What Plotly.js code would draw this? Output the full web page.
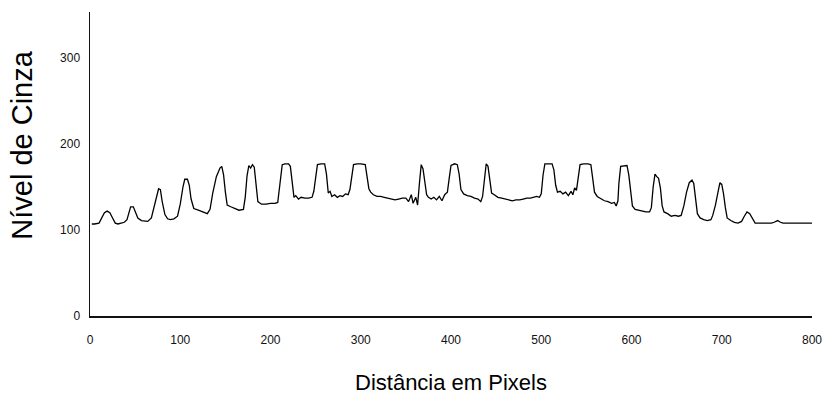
<!DOCTYPE html>
<html>
<head>
<meta charset="utf-8">
<script src="https://cdn.plot.ly/plotly-3.0.1.min.js"></script>
<style>
  html, body { margin: 0; padding: 0; background: #fff; }
  #chart { width: 825px; height: 407px; }
</style>
</head>
<body>
<div id="chart"></div>
<script>
// Grey-level profile sampled along a line of the image (distance in pixels)
const distancia = [
  2, 5, 10, 13, 16, 19, 22, 25, 28, 31, 35, 38, 41, 43, 45, 48, 50, 53, 57, 61,
  64, 68, 71, 74, 76, 78, 80, 83, 86, 89, 93, 97, 100, 103, 105, 108, 110, 112, 115, 120,
  125, 130, 133, 136, 140, 144, 146, 148, 150, 152, 156, 160, 165, 170, 172, 174, 176, 178, 180, 182,
  184, 186, 190, 195, 200, 205, 208, 211, 213, 216, 220, 222, 224, 226, 228, 231, 234, 238, 242, 246,
  248, 250, 252, 256, 260, 262, 264, 266, 268, 271, 274, 277, 280, 283, 286, 288, 290, 292, 296, 300,
  305, 307, 309, 311, 314, 318, 322, 326, 330, 334, 338, 342, 346, 350, 353, 356, 358, 361, 363, 365,
  367, 369, 371, 373, 375, 378, 381, 384, 387, 390, 393, 396, 398, 400, 404, 407, 409, 411, 414, 418,
  422, 426, 430, 433, 435, 437, 439, 441, 443, 445, 448, 452, 456, 460, 464, 468, 472, 476, 480, 484,
  488, 492, 495, 498, 500, 502, 504, 508, 512, 514, 516, 518, 521, 524, 527, 530, 533, 535, 537, 539,
  541, 543, 547, 552, 555, 557, 559, 562, 566, 570, 574, 578, 581, 583, 585, 586, 588, 592, 595, 597,
  599, 601, 604, 608, 612, 616, 620, 622, 624, 626, 628, 630, 632, 634, 636, 640, 644, 648, 652, 655,
  658, 661, 664, 667, 669, 671, 673, 676, 680, 684, 688, 690, 693, 696, 698, 700, 702, 704, 706, 710,
  714, 718, 722, 725, 728, 731, 734, 737, 740, 745, 750, 755, 758, 762, 765, 768, 775, 785, 795, 800
];
const nivelCinza = [
  107, 107, 108, 114, 120, 122, 120, 114, 108, 107, 108, 109, 112, 120, 127, 127, 121, 114, 111, 110,
  110, 114, 128, 142, 148, 147, 133, 118, 113, 112, 113, 116, 130, 150, 159, 159, 152, 136, 125, 123,
  121, 119, 124, 143, 162, 172, 174, 164, 144, 129, 127, 125, 123, 124, 138, 163, 175, 172, 176, 173,
  154, 133, 130, 130, 131, 131, 132, 158, 176, 177, 177, 174, 155, 138, 140, 136, 138, 137, 137, 138,
  145, 164, 176, 177, 177, 165, 143, 145, 139, 141, 138, 140, 139, 142, 141, 147, 164, 176, 177, 177,
  176, 164, 148, 144, 141, 139, 139, 138, 137, 136, 135, 136, 137, 137, 133, 141, 131, 138, 129, 154,
  176, 171, 154, 141, 138, 136, 138, 135, 139, 134, 141, 144, 160, 175, 177, 176, 165, 147, 142, 140,
  139, 137, 136, 133, 139, 160, 177, 174, 160, 143, 141, 138, 137, 136, 135, 134, 135, 135, 136, 137,
  137, 138, 139, 138, 142, 164, 177, 177, 177, 170, 152, 144, 145, 142, 144, 140, 145, 141, 149, 146,
  164, 176, 177, 177, 176, 160, 144, 139, 136, 134, 133, 131, 132, 128, 134, 154, 174, 175, 175, 164,
  143, 128, 124, 123, 122, 121, 121, 126, 150, 165, 162, 160, 149, 128, 121, 119, 116, 117, 116, 117,
  128, 144, 155, 158, 154, 134, 119, 114, 112, 111, 112, 117, 129, 145, 155, 153, 142, 126, 114, 111,
  109, 108, 110, 116, 121, 119, 113, 108, 108, 108, 108, 108, 109, 111, 109, 108, 108, 108, 108, 108
];
const xTicks = [0, 100, 200, 300, 400, 500, 600, 700, 800];
const yTicks = [0, 100, 200, 300];
const xTitle = 'Distância em Pixels';
const yTitle = 'Nível de Cinza';

const sans = '"Liberation Sans", Arial, sans-serif';

Plotly.newPlot('chart', [{
  x: distancia,
  y: nivelCinza,
  type: 'scatter',
  mode: 'lines',
  line: { color: '#000000', width: 1.3, shape: 'linear' },
  hoverinfo: 'x+y'
}], {
  width: 825,
  height: 407,
  margin: { l: 90, r: 13, t: 12, b: 91 },
  paper_bgcolor: '#ffffff',
  plot_bgcolor: '#ffffff',
  showlegend: false,
  xaxis: {
    range: [0, 800],
    tickvals: xTicks,
    ticktext: xTicks.map(String),
    showgrid: false,
    zeroline: false,
    showline: true,
    linecolor: '#111111',
    linewidth: 1.5,
    ticks: '',
    ticklabelstandoff: 12,
    tickfont: { family: sans, size: 12, color: '#111111' },
    title: { text: xTitle, font: { family: sans, size: 22, color: '#000000' }, standoff: 28 }
  },
  yaxis: {
    range: [0, 353.5],
    tickvals: yTicks,
    ticktext: yTicks.map(String),
    showgrid: false,
    zeroline: false,
    showline: true,
    linecolor: '#111111',
    linewidth: 1.5,
    ticks: '',
    ticklabelstandoff: 6,
    tickfont: { family: sans, size: 12, color: '#111111' }
  },
  annotations: [{
    // vertical axis caption, set a little above the middle of the axis
    text: yTitle,
    textangle: -90,
    xref: 'paper', x: 0, xanchor: 'center', xshift: -68,
    yref: 'y', y: 198, yanchor: 'middle',
    showarrow: false,
    font: { family: sans, size: 29, color: '#000000' }
  }]
}, { displayModeBar: false, staticPlot: true });
</script>
</body>
</html>
